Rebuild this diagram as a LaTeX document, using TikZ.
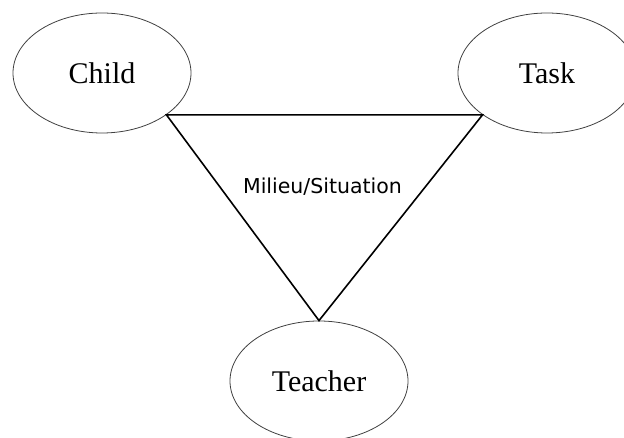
\documentclass[tikz,border=0pt]{standalone}
\usepackage{fontspec}
\setmainfont{Liberation Serif}
\newfontfamily\milieufont{DejaVu Sans}
\usetikzlibrary{shapes.geometric}

\begin{document}
\begin{tikzpicture}[x=1pt,y=1pt,
    actor/.style={draw=black!75,line width=0.8pt,ellipse,minimum width=178pt,minimum height=120pt,inner sep=0pt,font=\fontsize{30}{36}\selectfont},
    side/.style={line width=1.6pt,line join=miter},
    situation/.style={font=\milieufont\fontsize{20.5}{24}\selectfont}
  ]
    % Frame of the reference picture
    \useasboundingbox (0,0) rectangle (624,438);
    \clip (0,0) rectangle (624,438);

    % The three corners
    \node[actor] (child) at (102,365) {Child};
    \node[actor] (task) at (547,365) {Task};
    \node[actor] (teacher) at (319,57) {Teacher};

    % Triangle between them
    \draw[side] (child.-33) -- (task.-147) -- (teacher.north) -- cycle;
    \node[situation] (milieu) at (322.5,251) {Milieu/Situation};
  \end{tikzpicture}
\end{document}
